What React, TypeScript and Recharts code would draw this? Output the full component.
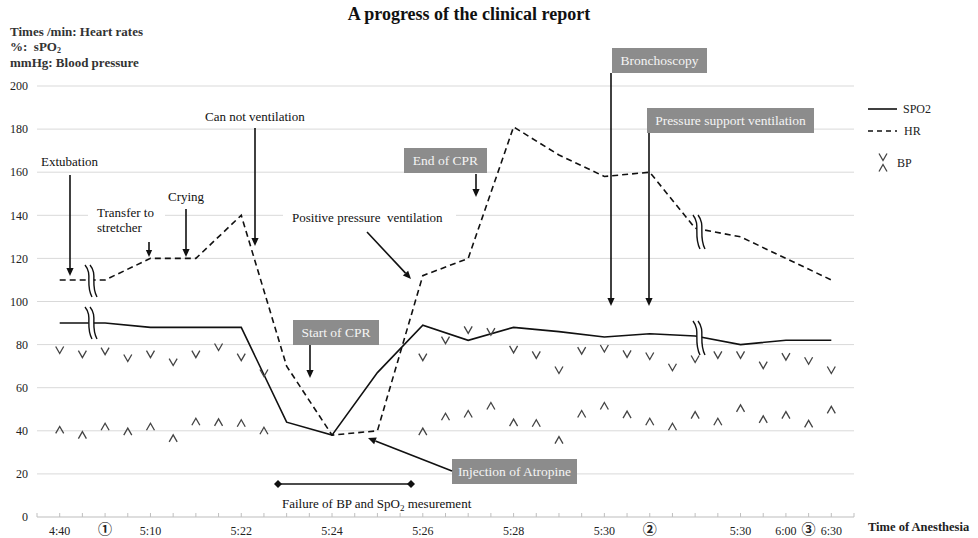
import React from "react";
import { ComposedChart, Line, Scatter, XAxis, YAxis, CartesianGrid } from "recharts";

// time slots along the axis (0..36), lines are sampled every other slot
const lineSlots = [1, 3, 5, 7, 9, 11, 13, 15, 17, 19, 21, 23, 25, 27, 29, 31, 33, 35];
const hrValues = [110, 110, 120, 120, 140, 70, 38, 40, 112, 120, 181, 168, 158, 160, 134, 130, 120, 110];
const spo2Values = [90, 90, 88, 88, 88, 44, 38, 67, 89, 82, 88, 86, 83.5, 85, 84, 80, 82, 82];

// blood pressure readings (none during the CPR gap)
const bpSlots = [1, 2, 3, 4, 5, 6, 7, 8, 9, 10, 17, 18, 19, 20, 21, 22, 23, 24, 25, 26, 27, 28, 29, 30, 31, 32, 33, 34, 35];
const systolic = [77.5, 75.6, 77, 73.8, 75.6, 71.9, 75.6, 78.9, 74.2, 66.8, 74.2, 82.1, 86.8, 86, 77.8, 75.2, 68.2, 77.2, 78.2, 75.7, 74.7, 69.5, 73.3, 75.2, 75.2, 70.5, 74.4, 72.5, 68.2];
const diastolic = [40.4, 38, 41.9, 39.6, 41.9, 36.5, 44.2, 43.9, 43.5, 40, 39.6, 46.5, 47.8, 51.5, 43.8, 43.5, 35.7, 47.8, 51.5, 47.5, 44.2, 41.9, 47.3, 44.2, 50.4, 45.3, 47.3, 43.2, 49.7];

const tickSlots = [1, 3, 5, 9, 13, 17, 21, 25, 27, 31, 33, 34, 35];
const tickTexts = ["4:40", "①", "5:10", "5:22", "5:24", "5:26", "5:28", "5:30", "②", "5:30", "6:00", "③", "6:30"];
const yTicks = [0, 20, 40, 60, 80, 100, 120, 140, 160, 180, 200];

const SERIF = "'Liberation Serif', 'Times New Roman', serif";
const BOX = "#8c8c8c";

const lineRows = lineSlots.map((k, i) => ({ k, hr: hrValues[i], spo2: spo2Values[i] }));
const sysRows = bpSlots.map((k, i) => ({ k, v: systolic[i] }));
const diaRows = bpSlots.map((k, i) => ({ k, v: diastolic[i] }));
const allSlots = Array.from({ length: 37 }, (_, i) => i);

const VMark = (p: any) => (
  <polyline points={`${p.cx - 4},${p.cy - 3.5} ${p.cx},${p.cy + 3.5} ${p.cx + 4},${p.cy - 3.5}`} fill="none" stroke="#444" strokeWidth={1.3} />
);
const CaretMark = (p: any) => (
  <polyline points={`${p.cx - 4},${p.cy + 3.5} ${p.cx},${p.cy - 3.5} ${p.cx + 4},${p.cy + 3.5}`} fill="none" stroke="#444" strokeWidth={1.3} />
);

const XTick = ({ x, y, payload }: any) => {
  const idx = tickSlots.indexOf(payload.value);
  const label = idx >= 0 ? tickTexts[idx] : null;
  const circled = label && /[①②③]/.test(label);
  return (
    <g>
      <line x1={x} x2={x} y1={y - 4} y2={y} stroke="#bfbfbf" />
      {label && (
        <text x={x} y={y + (circled ? 17 : 18)} textAnchor="middle" fontSize={circled ? 14 : 12}
          fontWeight={circled ? 700 : 400}
          fontFamily={circled ? "'Noto Sans CJK JP', 'DejaVu Sans', sans-serif" : SERIF} fill="#222">
          {label}
        </text>
      )}
    </g>
  );
};

const Arrow = ({ x1, y1, x2, y2, head = 8 }: any) => {
  const a = Math.atan2(y2 - y1, x2 - x1);
  const bx = x2 - head * Math.cos(a), by = y2 - head * Math.sin(a);
  const w = head * 0.45;
  const px = -Math.sin(a) * w, py = Math.cos(a) * w;
  return (
    <g>
      <line x1={x1} y1={y1} x2={bx} y2={by} stroke="#111" strokeWidth={1.6} />
      <polygon points={`${x2},${y2} ${bx + px},${by + py} ${bx - px},${by - py}`} fill="#111" />
    </g>
  );
};

const GrayBox = ({ x, y, w, text }: any) => (
  <g>
    <rect x={x} y={y} width={w} height={25} fill={BOX} />
    <text x={x + w / 2} y={y + 17} textAnchor="middle" fontSize={13.5} fill="#f4f4f4" fontFamily={SERIF}>{text}</text>
  </g>
);

const BreakMark = ({ x, y, h }: any) => {
  const top = y - h / 2, bot = y + h / 2;
  const wave = (dx: number) =>
    `M ${x - 4 + dx},${top} C ${x + 4 + dx},${top + h * 0.3} ${x - 4 + dx},${top + h * 0.6} ${x + 3 + dx},${bot}`;
  return (
    <g>
      <path d={`${wave(0)} L ${x + 8},${bot} C ${x + 1},${top + h * 0.6} ${x + 9},${top + h * 0.3} ${x + 1},${top} Z`} fill="#fff" />
      <path d={wave(0)} fill="none" stroke="#111" strokeWidth={1.4} />
      <path d={wave(5)} fill="none" stroke="#111" strokeWidth={1.4} />
    </g>
  );
};

const Diamond = ({ x, y }: any) => (
  <polygon points={`${x - 4},${y} ${x},${y - 4} ${x + 4},${y} ${x},${y + 4}`} fill="#111" />
);

export default function App() {
  return (
    <div style={{ position: "absolute", left: 0, top: 0, width: 978, height: 538, background: "#fff" }}>
      <ComposedChart width={978} height={538} data={lineRows} margin={{ top: 86, right: 124, bottom: 0, left: 0 }}>
        <CartesianGrid vertical={false} stroke="#d9d9d9" />
        <XAxis type="number" dataKey="k" domain={[0, 36]} ticks={allSlots} interval={0}
          tickLine={false} tickSize={0} tickMargin={0} height={21}
          axisLine={{ stroke: "#d0d0d0" }} tick={<XTick />} />
        <YAxis type="number" domain={[0, 200]} ticks={yTicks} width={37} interval={0}
          axisLine={false} tickLine={false} tickSize={0} tickMargin={9}
          tick={{ fontSize: 12, fill: "#222", fontFamily: SERIF }} />
        <Line type="linear" dataKey="hr" stroke="#111" strokeWidth={1.6} strokeDasharray="6 4"
          dot={false} isAnimationActive={false} connectNulls />
        <Line type="linear" dataKey="spo2" stroke="#111" strokeWidth={1.6}
          dot={false} isAnimationActive={false} connectNulls />
        <Scatter data={sysRows} dataKey="v" shape={VMark} isAnimationActive={false} />
        <Scatter data={diaRows} dataKey="v" shape={CaretMark} isAnimationActive={false} />
      </ComposedChart>

      <svg width={978} height={538} style={{ position: "absolute", left: 0, top: 0, pointerEvents: "none" }}
        fontFamily={SERIF}>
        <text x={469} y={20} textAnchor="middle" fontSize={18} fontWeight={700} fill="#111">
          A progress of the clinical report
        </text>
        <g fontSize={13} fontWeight={700} fill="#333">
          <text x={10} y={36}>Times /min: Heart rates</text>
          <text x={10} y={51} xmlSpace="preserve">%:  sPO<tspan fontSize={8} dy={2}>2</tspan></text>
          <text x={10} y={67}>mmHg: Blood pressure</text>
        </g>

        {/* white gaps behind labels that sit on a gridline */}
        <rect x={88} y={207} width={77} height={15} fill="#fff" />
        <rect x={283} y={208} width={173} height={15} fill="#fff" />

        <g fontSize={13} fill="#111">
          <text x={41} y={166}>Extubation</text>
          <text x={97} y={217}>Transfer to</text>
          <text x={97} y={232}>stretcher</text>
          <text x={168} y={201}>Crying</text>
          <text x={205} y={121}>Can not ventilation</text>
          <text x={292} y={222} xmlSpace="preserve">Positive pressure  ventilation</text>
          <text x={282} y={508}>Failure of BP and SpO<tspan fontSize={9} dy={3}>2</tspan><tspan dy={-3}> mesurement</tspan></text>
        </g>

        <Arrow x1={70} y1={175} x2={70} y2={276} />
        <Arrow x1={149} y1={242} x2={149} y2={257} head={7} />
        <Arrow x1={186} y1={209} x2={186} y2={257} />
        <Arrow x1={255} y1={128} x2={255} y2={246} />
        <Arrow x1={367} y1={232} x2={411} y2={279} />

        <GrayBox x={404} y={148} w={83} text="End of CPR" />
        <Arrow x1={476} y1={174} x2={476} y2={197} />
        <GrayBox x={293} y={320} w={86} text="Start of CPR" />
        <Arrow x1={310} y1={345} x2={310} y2={378} />
        <GrayBox x={612} y={48} w={95} text="Bronchoscopy" />
        <Arrow x1={611} y1={73} x2={611} y2={306} />
        <GrayBox x={647} y={108} w={167} text="Pressure support ventilation" />
        <Arrow x1={649} y1={133} x2={649} y2={306} />
        <GrayBox x={452} y={459} w={125} text="Injection of Atropine" />
        <Arrow x1={452} y1={471} x2={368} y2={438} />

        <line x1={278} y1={484} x2={411} y2={484} stroke="#111" strokeWidth={1.6} />
        <Diamond x={278} y={484} />
        <Diamond x={411} y={484} />

        <BreakMark x={89} y={281} h={32} />
        <BreakMark x={89} y={323} h={32} />
        <BreakMark x={697} y={232} h={34} />
        <BreakMark x={697} y={338} h={34} />

        {/* legend */}
        <line x1={868} y1={109} x2={897} y2={109} stroke="#111" strokeWidth={1.6} />
        <text x={903} y={113} fontSize={12} fill="#222">SPO2</text>
        <line x1={868} y1={131} x2={897} y2={131} stroke="#111" strokeWidth={1.6} strokeDasharray="5 4" />
        <text x={904} y={135} fontSize={12} fill="#222">HR</text>
        <VMark cx={883} cy={157} />
        <CaretMark cx={883} cy={168} />
        <text x={897} y={167} fontSize={12} fill="#222">BP</text>

        <text x={868} y={531} fontSize={12.5} fontWeight={700} fill="#222">Time of Anesthesia</text>
      </svg>
    </div>
  );
}
